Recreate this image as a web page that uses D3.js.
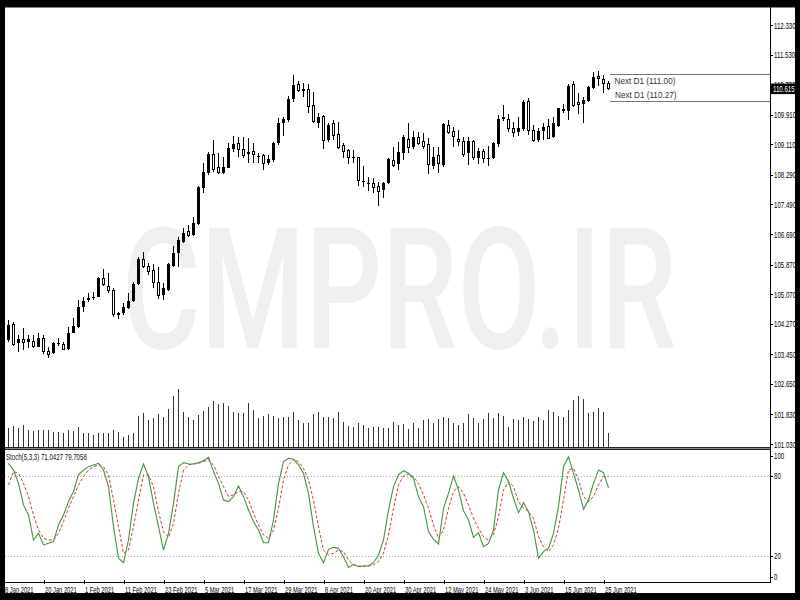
<!DOCTYPE html>
<html><head><meta charset="utf-8">
<script src="https://cdn.jsdelivr.net/npm/d3@7"></script>
<style>html,body{margin:0;padding:0;background:#000;overflow:hidden}svg{display:block}</style>
</head><body>
<svg id="chart" width="800" height="600"></svg>
<script>
// ---------------- DATA ----------------
const dates = [
"11 Jan 2021","12 Jan 2021","13 Jan 2021","14 Jan 2021","15 Jan 2021","18 Jan 2021","19 Jan 2021","20 Jan 2021","21 Jan 2021","22 Jan 2021",
"25 Jan 2021","26 Jan 2021","27 Jan 2021","28 Jan 2021","29 Jan 2021",
"1 Feb 2021","2 Feb 2021","3 Feb 2021","4 Feb 2021","5 Feb 2021","8 Feb 2021","9 Feb 2021","10 Feb 2021","11 Feb 2021","12 Feb 2021",
"15 Feb 2021","16 Feb 2021","17 Feb 2021","18 Feb 2021","19 Feb 2021","22 Feb 2021","23 Feb 2021","24 Feb 2021","25 Feb 2021","26 Feb 2021",
"1 Mar 2021","2 Mar 2021","3 Mar 2021","4 Mar 2021","5 Mar 2021","8 Mar 2021","9 Mar 2021","10 Mar 2021","11 Mar 2021","12 Mar 2021",
"15 Mar 2021","16 Mar 2021","17 Mar 2021","18 Mar 2021","19 Mar 2021","22 Mar 2021","23 Mar 2021","24 Mar 2021","25 Mar 2021","26 Mar 2021",
"29 Mar 2021","30 Mar 2021","31 Mar 2021",
"1 Apr 2021","2 Apr 2021","5 Apr 2021","6 Apr 2021","7 Apr 2021","8 Apr 2021","9 Apr 2021","12 Apr 2021","13 Apr 2021","14 Apr 2021",
"15 Apr 2021","16 Apr 2021","19 Apr 2021","20 Apr 2021","21 Apr 2021","22 Apr 2021","23 Apr 2021","26 Apr 2021","27 Apr 2021","28 Apr 2021",
"29 Apr 2021","30 Apr 2021",
"3 May 2021","4 May 2021","5 May 2021","6 May 2021","7 May 2021","10 May 2021","11 May 2021","12 May 2021","13 May 2021","14 May 2021",
"17 May 2021","18 May 2021","19 May 2021","20 May 2021","21 May 2021","24 May 2021","25 May 2021","26 May 2021","27 May 2021","28 May 2021",
"31 May 2021",
"1 Jun 2021","2 Jun 2021","3 Jun 2021","4 Jun 2021","7 Jun 2021","8 Jun 2021","9 Jun 2021","10 Jun 2021","11 Jun 2021","14 Jun 2021",
"15 Jun 2021","16 Jun 2021","17 Jun 2021","18 Jun 2021","21 Jun 2021","22 Jun 2021","23 Jun 2021","24 Jun 2021","25 Jun 2021","28 Jun 2021"];

const open = [
103.834,104.257,103.745,103.852,103.789,103.807,103.655,103.879,103.520,103.475,
103.730,103.718,103.583,104.032,104.194,104.733,104.913,104.958,105.003,105.498,
105.273,105.183,104.540,104.554,104.688,104.895,105.345,106.010,105.830,105.704,
105.381,105.048,105.183,105.830,106.172,106.486,106.756,106.666,106.963,107.943,
108.329,108.851,108.482,108.329,108.482,108.977,109.121,108.977,108.851,108.914,
108.761,108.806,108.599,108.689,109.139,109.678,109.768,110.325,110.712,110.559,
110.595,110.172,109.696,109.858,109.228,109.678,109.390,109.067,108.932,108.752,
108.752,108.096,108.060,108.060,107.970,107.880,108.060,108.689,108.581,108.887,
109.255,109.031,109.300,109.184,109.094,108.527,108.824,108.554,109.633,109.453,
109.255,109.201,108.869,109.201,108.752,108.914,108.734,108.734,109.121,109.786,
109.786,109.543,109.453,109.516,110.280,109.498,109.228,109.480,109.606,109.300,
109.606,110.019,110.019,110.712,110.235,110.199,110.289,110.622,110.954,110.865,
110.757];
const high = [
104.374,104.329,103.969,104.149,103.969,103.969,104.032,103.969,103.637,103.789,
103.879,103.789,104.194,104.437,104.913,104.985,105.093,105.120,105.543,105.740,
105.650,105.228,104.598,104.823,105.093,105.408,106.064,106.217,105.902,105.884,
105.812,105.363,105.902,106.370,106.621,106.846,106.936,107.143,107.988,108.617,
108.914,109.228,108.869,108.779,109.139,109.336,109.318,109.318,109.273,109.139,
108.869,108.851,108.824,109.184,109.813,109.858,110.415,110.981,110.829,110.757,
110.739,110.532,109.948,109.903,109.696,109.768,109.723,109.139,108.977,108.959,
108.779,108.527,108.239,108.194,108.105,108.105,108.734,109.049,109.184,109.363,
109.696,109.480,109.453,109.426,109.273,109.049,109.031,109.678,109.768,109.588,
109.498,109.300,109.300,109.228,109.004,108.977,109.067,109.184,109.903,110.172,
109.930,109.723,109.858,110.307,110.352,109.633,109.543,109.678,109.786,109.840,
110.100,110.199,110.739,110.829,110.487,110.379,110.685,111.071,111.098,110.981,
110.829];
const low = [
103.789,103.673,103.520,103.565,103.610,103.610,103.637,103.457,103.340,103.457,
103.673,103.565,103.565,104.014,104.149,104.598,104.868,104.913,104.985,105.291,
105.111,104.446,104.392,104.509,104.661,104.868,105.318,105.767,105.587,105.228,
104.931,104.913,105.165,105.812,105.812,106.459,106.621,106.639,106.936,107.790,
108.284,108.374,108.311,108.311,108.464,108.914,108.779,108.734,108.599,108.617,
108.599,108.419,108.554,108.644,109.094,109.336,109.723,110.262,110.532,110.397,
109.948,109.678,109.543,108.977,109.184,109.228,108.977,108.734,108.581,108.599,
107.988,107.970,107.853,107.808,107.448,107.655,108.033,108.509,108.419,108.689,
108.869,108.977,109.094,108.977,108.311,108.437,108.329,108.509,109.390,109.031,
109.067,108.779,108.554,108.689,108.581,108.617,108.527,108.707,109.031,109.750,
109.453,109.318,109.336,109.480,109.363,109.184,109.184,109.228,109.246,109.273,
109.588,109.948,109.768,110.127,109.930,109.696,110.262,110.595,110.685,110.487,
110.577];
const close = [
104.239,103.718,103.852,103.762,103.852,103.655,103.879,103.520,103.448,103.745,
103.742,103.583,104.032,104.212,104.715,104.895,104.958,105.003,105.498,105.336,
105.165,104.509,104.530,104.715,104.895,105.345,106.010,105.812,105.677,105.381,
105.048,105.228,105.884,106.190,106.531,106.729,106.666,106.999,107.952,108.356,
108.851,108.437,108.347,108.491,109.022,109.121,108.959,108.824,108.896,108.851,
108.806,108.599,108.707,109.157,109.678,109.786,110.325,110.712,110.577,110.604,
110.145,109.723,109.840,109.228,109.633,109.363,109.031,108.914,108.761,108.779,
108.132,108.132,108.078,107.952,107.835,108.078,108.707,108.554,108.914,109.318,
109.031,109.300,109.139,109.049,108.581,108.779,108.599,109.660,109.426,109.318,
109.184,108.851,109.201,108.752,108.941,108.734,108.744,109.139,109.786,109.858,
109.543,109.426,109.543,110.262,109.498,109.210,109.480,109.588,109.273,109.678,
110.082,110.064,110.694,110.172,110.199,110.307,110.649,110.918,110.874,110.739,
110.615];
const volume = [
19300,21000,18700,22000,17000,16300,17000,17000,17000,15300,
15300,14300,17000,16300,19700,14300,14300,12000,14300,14300,
13700,17000,15300,9700,12000,14300,31000,34300,27000,28700,
32700,29700,37700,51000,57700,35300,29700,27000,32000,36300,
39700,46000,43000,43700,41300,35300,33700,33700,43700,37000,
28700,31000,32700,31000,28700,29700,29700,35300,27000,23700,
23700,32700,35300,30300,29700,28700,35300,24700,21000,19700,
24300,22000,18700,19700,19700,18700,18700,25300,22000,22700,
17700,24300,18700,27000,27700,24300,27700,30300,28700,24300,
22000,23700,32700,28700,24300,27700,33700,28700,33700,31300,
20300,27700,27000,29700,27700,26000,29700,27000,37000,35300,
31000,29700,37000,47000,51000,47700,33700,35300,38700,35300,
13700];
const stochK = [
89.5,84.5,74.5,58.3,50.8,32,37,28.3,29.5,30.8,
43.3,50.8,60.8,68.3,80.8,84.5,87,88.3,89.5,84.5,
72,42,18.3,15,32,59.5,78.3,89,79.5,59.5,
42,24.5,37,59.5,87,90,89,89,90,91.5,
94,83.3,74.5,62,60.8,64.5,72.5,64.5,54.5,45.8,
39.5,30,30,47,74.5,90.8,93.3,92.5,88.3,82,
67,42,22,15,25,26.5,25.8,19.5,11.5,13.8,
12,12.5,12.5,15,20.8,32,54.5,72,80.8,84,
82,78.3,64.5,57,38.3,32.5,29,55.8,67,80,
69.5,54,47,34,37.5,27,29.5,39.5,69.5,82.5,
75.8,63.3,52.5,60,53.3,39.5,18.3,23.3,25.8,37,
57,87,94.5,82,69.5,55,62,74.5,84.5,82.5,
71.0427];
const stochD = [
73.3,83.3,82,74.5,64.5,50.8,39.5,33.3,32,32,
37,45.8,55.8,64.5,73.3,79.5,84.5,87,88.3,87,
80.8,62,42,22,24.5,42,62,80.8,80.8,72,
53.3,38.3,34,44.5,67,84.5,88.3,89,89.5,90.8,
92,88.3,79.5,72,64.5,65.8,68.3,68.3,62,52,
43.3,35.8,33.3,39.5,55.8,77,88.3,92.5,90.8,85.8,
77,62,42,24.5,20.8,22,24.5,23.3,17,13.3,
12.5,12.5,12.5,13.3,15.8,22,35.8,55.8,73.3,80,
81.5,79.5,74.5,65.8,55.8,43.3,33.3,39.5,55.8,68.3,
72,67,58.3,48.3,40.8,34.5,32,35.8,49.5,69.5,
75.8,72,60.8,55.8,53.3,48.3,34.5,27,23.3,28.3,
40.8,62,84.5,85.8,77,64.5,60.8,64.5,73.3,79.5,
79.7058];

const priceTicks = [112.330,111.530,110.730,109.910,109.110,108.290,107.490,106.690,105.870,105.070,104.270,103.450,102.650,101.830,101.030];
const stochTicks = [100,80,20,0];
const stochLevels = [80,20];
const dateTicks = ["8 Jan 2021","20 Jan 2021","1 Feb 2021","11 Feb 2021","23 Feb 2021","5 Mar 2021","17 Mar 2021","29 Mar 2021","8 Apr 2021","20 Apr 2021","30 Apr 2021","12 May 2021","24 May 2021","3 Jun 2021","15 Jun 2021","25 Jun 2021"];
const lastPrice = 110.615;
const nextLevels = [111.00, 110.27];
const nextLabels = ["Next D1 (111.00)","Next D1 (110.27)"];
const stochLegend = "Stoch(5,3,3) 71.0427 79.7058";
const watermark = "CMPRO.IR";

// ---------------- LAYOUT ----------------
const L = 5, R = 770, TOP = 7, MAIN_B = 447, ST_T = 449, ST_B = 582, FRAME_R = 795, FRAME_B = 593;
const FONT = "'Liberation Sans', Arial, sans-serif";

const svg = d3.select("#chart");
svg.append("rect").attr("width",800).attr("height",600).attr("fill","#000");
svg.append("rect").attr("x",L).attr("y",TOP).attr("width",FRAME_R-L).attr("height",FRAME_B-TOP).attr("fill","#fff");

const x = d3.scaleLinear().domain([0, dates.length-1]).range([8.5, 608.5]);
const y = d3.scaleLinear().domain([101.03, 112.33]).range([444, 25]);
const yv = d3.scaleLinear().domain([0, 60000]).range([MAIN_B, MAIN_B-60]);
const ys = d3.scaleLinear().domain([0,100]).range([582.7, 449.3]);

const defs = svg.append("defs");
defs.append("clipPath").attr("id","cMain").append("rect").attr("x",L).attr("y",TOP+1).attr("width",R-L).attr("height",MAIN_B-TOP-1);
defs.append("clipPath").attr("id","cSt").append("rect").attr("x",L).attr("y",ST_T+1).attr("width",R-L).attr("height",ST_B-ST_T-1);

function txt(g, px, py, s, size, sx, color, weight){
  return g.append("text").attr("transform",`translate(${px},${py}) scale(${sx},1)`)
    .attr("font-family",FONT).attr("font-size",size).attr("fill",color||"#000")
    .attr("font-weight",weight||"normal").text(s);
}

// watermark (horizontally squeezed to its span in the reference)
const wm = svg.append("text").attr("font-family","Roboto, 'Liberation Sans', sans-serif")
  .attr("font-size",168).attr("font-weight",500).attr("fill","#efefef").text(watermark);
const wmW = wm.node().getComputedTextLength();
wm.attr("transform",`translate(122,348) scale(${555/wmW},1)`);

// ---------------- MAIN WINDOW ----------------
const main = svg.append("g").attr("clip-path","url(#cMain)").attr("shape-rendering","crispEdges");
main.append("g").selectAll("line").data(volume).join("line")
  .attr("x1",(d,i)=>x(i)).attr("x2",(d,i)=>x(i)).attr("y1",yv(0)).attr("y2",d=>yv(d))
  .attr("stroke","#333").attr("stroke-width",1);

const candles = main.append("g").selectAll("g").data(d3.range(dates.length)).join("g");
candles.append("line").attr("x1",i=>x(i)).attr("x2",i=>x(i))
  .attr("y1",i=>y(high[i])).attr("y2",i=>y(low[i])).attr("stroke","#000");
candles.append("rect")
  .attr("x",i=> close[i]>=open[i] ? x(i)-1.5 : x(i)-1)
  .attr("width",i=> close[i]>=open[i] ? 3 : 2)
  .attr("y",i=>y(Math.max(open[i],close[i])))
  .attr("height",i=>Math.max(close[i]>=open[i]?1:0.5, Math.abs(y(open[i])-y(close[i]))))
  .attr("fill",i=> close[i]>=open[i] ? "#000" : "#fff")
  .attr("stroke",i=> close[i]>=open[i] ? "none" : "#000");

// next D1 levels
const nx = x(dates.length-1)+1;
nextLevels.forEach(v=>{
  main.append("line").attr("x1",nx).attr("x2",R).attr("y1",Math.round(y(v))+0.5).attr("y2",Math.round(y(v))+0.5)
    .attr("stroke","#777");
});
txt(svg, nx+5, y(nextLevels[0])+9.5, nextLabels[0], 9.5, 0.86, "#333");
txt(svg, nx+5.5, y(nextLevels[1])-3.5, nextLabels[1], 9.5, 0.86, "#333");

// borders
const borders = svg.append("g").attr("shape-rendering","crispEdges");
borders.append("line").attr("x1",L).attr("x2",FRAME_R).attr("y1",TOP+0.5).attr("y2",TOP+0.5).attr("stroke","#888");
borders.append("line").attr("x1",L).attr("x2",R).attr("y1",MAIN_B+0.5).attr("y2",MAIN_B+0.5).attr("stroke","#222");
borders.append("line").attr("x1",L).attr("x2",R).attr("y1",MAIN_B+1.5).attr("y2",MAIN_B+1.5).attr("stroke","#888");
borders.append("line").attr("x1",L).attr("x2",R).attr("y1",ST_T+0.5).attr("y2",ST_T+0.5).attr("stroke","#222");
borders.append("line").attr("x1",L).attr("x2",R).attr("y1",ST_B+0.5).attr("y2",ST_B+0.5).attr("stroke","#000");
borders.append("line").attr("x1",R+0.5).attr("x2",R+0.5).attr("y1",TOP).attr("y2",ST_B+1).attr("stroke","#000");

// price axis
const yAxis = d3.axisRight(y).tickValues(priceTicks).tickFormat(d3.format(".3f")).tickSize(3);
const gy = svg.append("g").attr("transform",`translate(${R},0)`).call(yAxis);
gy.select(".domain").remove();
gy.selectAll(".tick line").attr("stroke","#000").attr("shape-rendering","crispEdges");
gy.selectAll(".tick text").attr("x",null).attr("dy",null).attr("fill","#000")
  .attr("font-family",FONT).attr("font-size",8.5).attr("transform","translate(4,3) scale(0.72,1)");

// last price box
const lp = y(lastPrice);
svg.append("rect").attr("x",R+1).attr("y",lp-5).attr("width",FRAME_R-R-1).attr("height",10.5).attr("fill","#000");
txt(svg, R+3, lp+3.2, d3.format(".3f")(lastPrice), 8.5, 0.72, "#fff");

// ---------------- STOCHASTIC ----------------
const st = svg.append("g").attr("clip-path","url(#cSt)");
stochLevels.forEach(v=>{
  st.append("line").attr("x1",L).attr("x2",R).attr("y1",Math.round(ys(v))+0.5).attr("y2",Math.round(ys(v))+0.5)
    .attr("stroke","#aaa").attr("stroke-dasharray","1,2").attr("shape-rendering","crispEdges");
});
const line = d3.line().x((d,i)=>x(i)).y(d=>ys(d));
st.append("path").attr("d",line(stochD)).attr("fill","none").attr("stroke","#e8302a").attr("stroke-width",1).attr("stroke-dasharray","3,2");
st.append("path").attr("d",line(stochK)).attr("fill","none").attr("stroke","#3a9a3a").attr("stroke-width",1.1);

txt(svg, 6, 459.5, stochLegend, 8.5, 0.72, "#111");

const sAx = svg.append("g");
stochTicks.forEach(t=>{
  const yy = Math.min(Math.max(ys(t), 456), 576.5);
  sAx.append("line").attr("x1",R).attr("x2",R+3).attr("y1",Math.round(yy)+0.5).attr("y2",Math.round(yy)+0.5).attr("stroke","#000").attr("shape-rendering","crispEdges");
  txt(sAx, R+4, yy+3, String(t), 8.5, 0.72, "#000");
});

// ---------------- DATE AXIS ----------------
const tickIdx = dateTicks.map(t => dates.indexOf(t)); // "8 Jan 2021" is the bar just before the window -> -1
const xAxis = d3.axisBottom(x).tickValues(tickIdx).tickFormat((d,k)=>dateTicks[k]).tickSize(3);
const gx = svg.append("g").attr("transform",`translate(0,${ST_B-1})`).call(xAxis);
gx.select(".domain").remove();
gx.selectAll(".tick line").attr("stroke","#000").attr("y1",-1).attr("y2",3).attr("shape-rendering","crispEdges");
gx.selectAll(".tick text").attr("x",null).attr("y",null).attr("dy",null).attr("text-anchor","start")
  .attr("fill","#000").attr("font-family",FONT).attr("font-size",8.5).attr("transform","translate(1,11.5) scale(0.68,1)");

// outer black frame (covers overflow)
const fr = svg.append("g").attr("fill","#000");
fr.append("rect").attr("x",0).attr("y",0).attr("width",L).attr("height",600);
fr.append("rect").attr("x",0).attr("y",0).attr("width",800).attr("height",TOP);
fr.append("rect").attr("x",FRAME_R).attr("y",0).attr("width",800-FRAME_R).attr("height",600);
fr.append("rect").attr("x",0).attr("y",FRAME_B).attr("width",800).attr("height",600-FRAME_B);
</script>
</body></html>
